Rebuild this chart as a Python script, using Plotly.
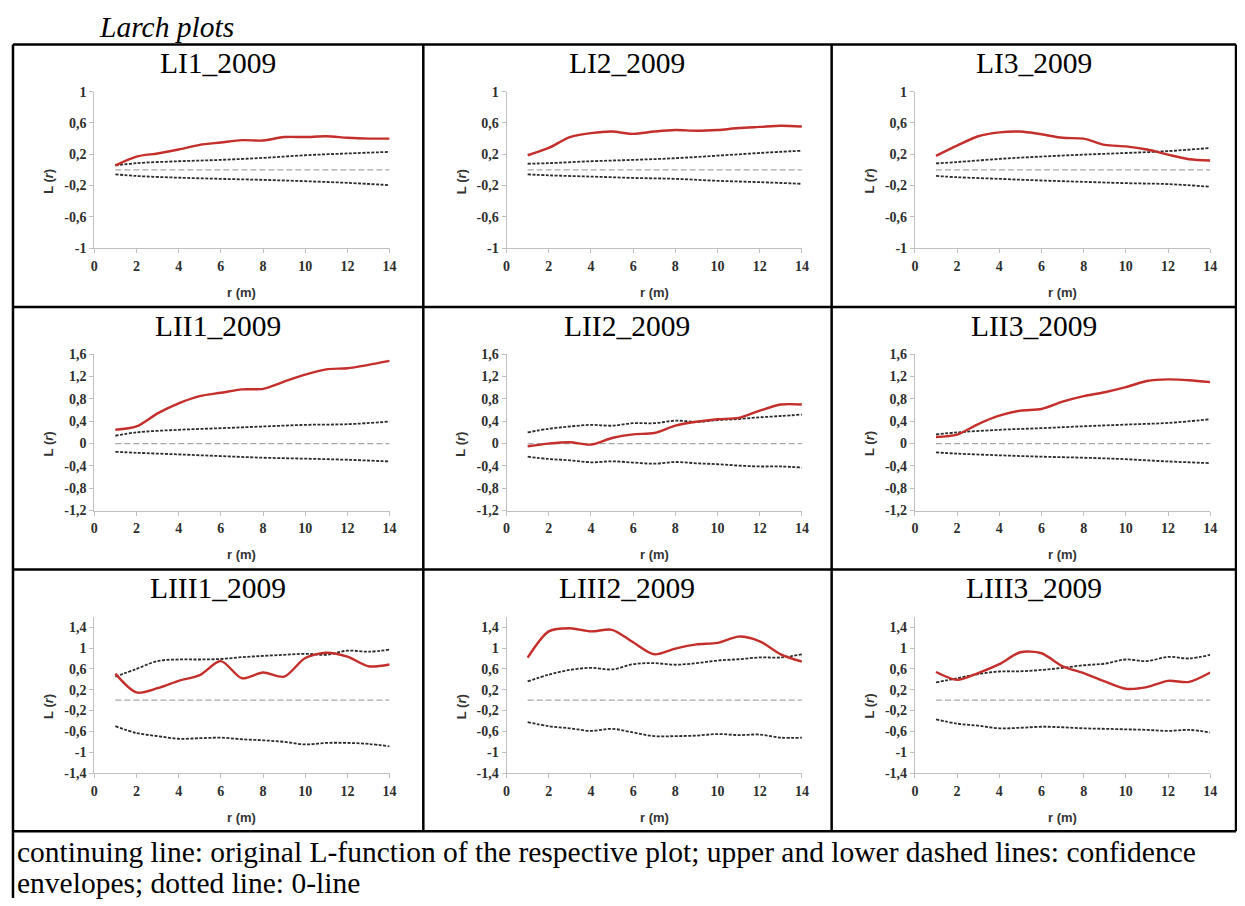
import plotly.graph_objects as go

W, H = 1245, 906
OFF = 8  # default page margin around the plot div
FW, FH = W - OFF, H - OFF

r_m = [1, 2, 3, 4, 5, 6, 7, 8, 9, 10, 11, 12, 13, 14]
r_env = [1, 2, 4, 6, 8, 10, 12, 14]

titles = ["LI1_2009", "LI2_2009", "LI3_2009",
          "LII1_2009", "LII2_2009", "LII3_2009",
          "LIII1_2009", "LIII2_2009", "LIII3_2009"]

# --- row 1 ---
LI1_L = [0.057, 0.17, 0.21, 0.26, 0.32, 0.35, 0.38, 0.375, 0.42, 0.42, 0.43, 0.41, 0.40, 0.40]
LI1_up = [0.057, 0.086, 0.11, 0.128, 0.153, 0.187, 0.21, 0.23]
LI1_lo = [-0.057, -0.078, -0.10, -0.115, -0.128, -0.145, -0.166, -0.195]

LI2_L = [0.187, 0.28, 0.42, 0.47, 0.49, 0.46, 0.49, 0.51, 0.50, 0.51, 0.535, 0.55, 0.565, 0.555]
LI2_up = [0.078, 0.086, 0.11, 0.128, 0.149, 0.182, 0.216, 0.245]
LI2_lo = [-0.057, -0.07, -0.086, -0.103, -0.115, -0.14, -0.157, -0.178]

LI3_L = [0.18, 0.31, 0.43, 0.48, 0.49, 0.455, 0.41, 0.40, 0.32, 0.30, 0.26, 0.195, 0.136, 0.12]
LI3_up = [0.082, 0.10, 0.14, 0.17, 0.195, 0.216, 0.24, 0.28]
LI3_lo = [-0.078, -0.094, -0.115, -0.136, -0.153, -0.17, -0.182, -0.216]

# --- row 2 ---
LII1_L = [0.247, 0.306, 0.54, 0.72, 0.85, 0.91, 0.97, 0.98, 1.11, 1.235, 1.33, 1.35, 1.41, 1.48]
LII1_up = [0.14, 0.20, 0.247, 0.276, 0.306, 0.335, 0.347, 0.394]
LII1_lo = [-0.147, -0.165, -0.194, -0.224, -0.253, -0.27, -0.29, -0.32]

LII2_L = [-0.047, 0.0, 0.024, -0.018, 0.10, 0.165, 0.19, 0.32, 0.39, 0.435, 0.46, 0.59, 0.70, 0.70]
LII2_up = [0.20, 0.265, 0.306, 0.335, 0.32, 0.365, 0.365, 0.41, 0.39, 0.42, 0.44, 0.47, 0.494, 0.52]
LII2_lo = [-0.235, -0.276, -0.30, -0.335, -0.318, -0.34, -0.36, -0.33, -0.353, -0.37, -0.394, -0.41, -0.41, -0.43]

LII3_L = [0.118, 0.16, 0.35, 0.50, 0.59, 0.62, 0.75, 0.85, 0.92, 1.01, 1.12, 1.15, 1.135, 1.10]
LII3_up = [0.165, 0.20, 0.247, 0.276, 0.31, 0.34, 0.37, 0.435]
LII3_lo = [-0.159, -0.18, -0.21, -0.235, -0.253, -0.28, -0.32, -0.35]

# --- row 3 ---
LIII1_L = [0.51, 0.148, 0.23, 0.37, 0.48, 0.75, 0.42, 0.53, 0.45, 0.81, 0.91, 0.835, 0.65, 0.685]
LIII1_up = [0.45, 0.60, 0.75, 0.78, 0.78, 0.79, 0.825, 0.85, 0.87, 0.89, 0.87, 0.95, 0.93, 0.97]
LIII1_lo = [-0.50, -0.63, -0.69, -0.74, -0.73, -0.72, -0.75, -0.77, -0.80, -0.85, -0.82, -0.82, -0.84, -0.885]

LIII2_L = [0.815, 1.32, 1.38, 1.32, 1.35, 1.11, 0.88, 0.99, 1.07, 1.10, 1.22, 1.13, 0.88, 0.74]
LIII2_up = [0.36, 0.49, 0.58, 0.62, 0.59, 0.69, 0.71, 0.68, 0.71, 0.76, 0.785, 0.82, 0.82, 0.88]
LIII2_lo = [-0.42, -0.50, -0.54, -0.59, -0.55, -0.62, -0.69, -0.69, -0.68, -0.65, -0.67, -0.66, -0.72, -0.72]

LIII3_L = [0.54, 0.39, 0.52, 0.69, 0.92, 0.90, 0.65, 0.52, 0.36, 0.22, 0.25, 0.37, 0.35, 0.53]
LIII3_up = [0.34, 0.42, 0.50, 0.55, 0.555, 0.58, 0.62, 0.67, 0.70, 0.78, 0.75, 0.83, 0.80, 0.87]
LIII3_lo = [-0.37, -0.45, -0.49, -0.54, -0.53, -0.51, -0.52, -0.54, -0.55, -0.56, -0.57, -0.59, -0.57, -0.62]

panels = [
    (LI1_L, r_env, LI1_up, LI1_lo), (LI2_L, r_env, LI2_up, LI2_lo), (LI3_L, r_env, LI3_up, LI3_lo),
    (LII1_L, r_env, LII1_up, LII1_lo), (LII2_L, r_m, LII2_up, LII2_lo), (LII3_L, r_env, LII3_up, LII3_lo),
    (LIII1_L, r_m, LIII1_up, LIII1_lo), (LIII2_L, r_m, LIII2_up, LIII2_lo), (LIII3_L, r_m, LIII3_up, LIII3_lo),
]

zero_x = [1, 14]
zero_y = [0, 0]

x_ticks = [0, 2, 4, 6, 8, 10, 12, 14]

row_ranges = [[-1, 1], [-1.2, 1.6], [-1.4, 1.6]]
row_tickvals = [
    [-1, -0.6, -0.2, 0.2, 0.6, 1],
    [-1.2, -0.8, -0.4, 0, 0.4, 0.8, 1.2, 1.6],
    [-1.4, -1, -0.6, -0.2, 0.2, 0.6, 1, 1.4],
]
row_ticktext = [
    ["-1", "-0,6", "-0,2", "0,2", "0,6", "1"],
    ["-1,2", "-0,8", "-0,4", "0", "0,4", "0,8", "1,2", "1,6"],
    ["-1,4", "-1", "-0,6", "-0,2", "0,2", "0,6", "1", "1,4"],
]

caption1 = "continuing line: original L-function of the respective plot; upper and lower dashed lines: confidence"
caption2 = "envelopes; dotted line: 0-line"
heading = "Larch plots"

# ---------------- layout geometry (page pixels) ----------------
col_edges = [9, 423, 835, 1243]
row_edges = [38, 305, 572, 838]
plot_x0_off = 84
plot_w = 298
plot_top_off = 48
plot_h = 159

SERIF = "Liberation Serif"
SANS = "Liberation Sans"
RED = "#c42e2b"
ENV = "#2b2b2b"
AXC = "#c0c0c0"
TICKF = dict(family=SERIF, size=14, color="#2e2e2e")
AXTF = dict(family=SANS, size=13, color="#333333")
TXT = 29.5

fig = go.Figure()
annotations = []
shapes = []

def px(x):
    return (x - OFF) / FW

def py(y):
    return 1 - (y - OFF) / FH

for i, (Lv, rx, up, lo) in enumerate(panels):
    row, col = divmod(i, 3)
    n = i + 1
    xa = "x" if n == 1 else f"x{n}"
    ya = "y" if n == 1 else f"y{n}"
    x0 = col_edges[col] + plot_x0_off
    if col == 0:
        x0 = 91
    x1 = x0 + plot_w
    y0 = row_edges[row] + plot_top_off
    y1 = y0 + plot_h

    fig.add_trace(go.Scatter(x=zero_x, y=zero_y, mode="lines", xaxis=xa, yaxis=ya,
                             line=dict(color="#a8a8a8", width=1.2, dash="6px,3px"),
                             showlegend=False, hoverinfo="skip"))
    fig.add_trace(go.Scatter(x=rx, y=up, mode="lines", xaxis=xa, yaxis=ya,
                             line=dict(color=ENV, width=1.8, dash="3px,1.5px", shape="spline"),
                             showlegend=False))
    fig.add_trace(go.Scatter(x=rx, y=lo, mode="lines", xaxis=xa, yaxis=ya,
                             line=dict(color=ENV, width=1.8, dash="3px,1.5px", shape="spline"),
                             showlegend=False))
    fig.add_trace(go.Scatter(x=r_m, y=Lv, mode="lines", xaxis=xa, yaxis=ya,
                             line=dict(color=RED, width=2.4, shape="spline", smoothing=0.8),
                             showlegend=False))

    xkey = "xaxis" if n == 1 else f"xaxis{n}"
    ykey = "yaxis" if n == 1 else f"yaxis{n}"
    fig.layout[xkey] = dict(
        domain=[px(x0), px(x1)], anchor=ya, range=[0, 14],
        tickvals=x_ticks, ticktext=[f"<b>{t}</b>" for t in x_ticks],
        showgrid=False, zeroline=False, showline=True, linecolor=AXC, linewidth=1,
        ticks="outside", ticklen=4, tickcolor=AXC, tickfont=TICKF, fixedrange=True,
        ticklabelstandoff=1,
    )
    fig.layout[ykey] = dict(
        domain=[py(y1), py(y0)], anchor=xa, range=row_ranges[row],
        tickvals=row_tickvals[row], ticktext=[f"<b>{t}</b>" for t in row_ticktext[row]],
        showgrid=False, zeroline=False, showline=True, linecolor=AXC, linewidth=1,
        ticks="outside", ticklen=4, tickcolor=AXC, tickfont=TICKF, fixedrange=True,
    )

    cx = (col_edges[col] + col_edges[col + 1]) / 2
    annotations.append(dict(text=titles[i], x=px(cx), y=py(row_edges[row] + 19),
                            xref="paper", yref="paper", showarrow=False,
                            xanchor="center", yanchor="middle",
                            font=dict(family=SERIF, size=TXT, color="black")))
    annotations.append(dict(text="<b>r (m)</b>", x=px((x0 + x1) / 2), y=py(y1 + 45),
                            xref="paper", yref="paper", showarrow=False,
                            xanchor="center", yanchor="middle", font=AXTF))
    annotations.append(dict(text="<b>L (<i>r</i>)</b>", x=px(x0 - 46), y=py(y0 + 91),
                            xref="paper", yref="paper", showarrow=False, textangle=-90,
                            xanchor="center", yanchor="middle", font=AXTF))

annotations.append(dict(text=f"<i>{heading}</i>", x=px(94), y=py(20), xref="paper", yref="paper",
                        showarrow=False, xanchor="left", yanchor="middle",
                        font=dict(family=SERIF, size=TXT, color="black")))
annotations.append(dict(text=caption1, x=px(11), y=py(859), xref="paper", yref="paper",
                        showarrow=False, xanchor="left", yanchor="middle",
                        font=dict(family=SERIF, size=TXT, color="black")))
annotations.append(dict(text=caption2, x=px(11), y=py(891), xref="paper", yref="paper",
                        showarrow=False, xanchor="left", yanchor="middle",
                        font=dict(family=SERIF, size=TXT, color="black")))

BL = dict(color="black", width=2.5)
for ye in row_edges:
    shapes.append(dict(type="line", xref="paper", yref="paper",
                       x0=px(col_edges[0]), x1=px(col_edges[-1]), y0=py(ye), y1=py(ye), line=BL))
shapes.append(dict(type="line", xref="paper", yref="paper",
                   x0=px(col_edges[0]), x1=px(col_edges[0]), y0=py(row_edges[0]), y1=0, line=BL))
shapes.append(dict(type="line", xref="paper", yref="paper",
                   x0=px(col_edges[-1]), x1=px(col_edges[-1]), y0=py(row_edges[0]), y1=py(row_edges[-1]), line=BL))
for xe in col_edges[1:-1]:
    shapes.append(dict(type="line", xref="paper", yref="paper",
                       x0=px(xe), x1=px(xe), y0=py(row_edges[0]), y1=py(row_edges[-1]), line=BL))

fig.update_layout(width=FW, height=FH, margin=dict(l=0, r=0, t=0, b=0),
                  paper_bgcolor="white", plot_bgcolor="white",
                  annotations=annotations, shapes=shapes, showlegend=False)

fig.write_html("out.html", config={"displayModeBar": False})
